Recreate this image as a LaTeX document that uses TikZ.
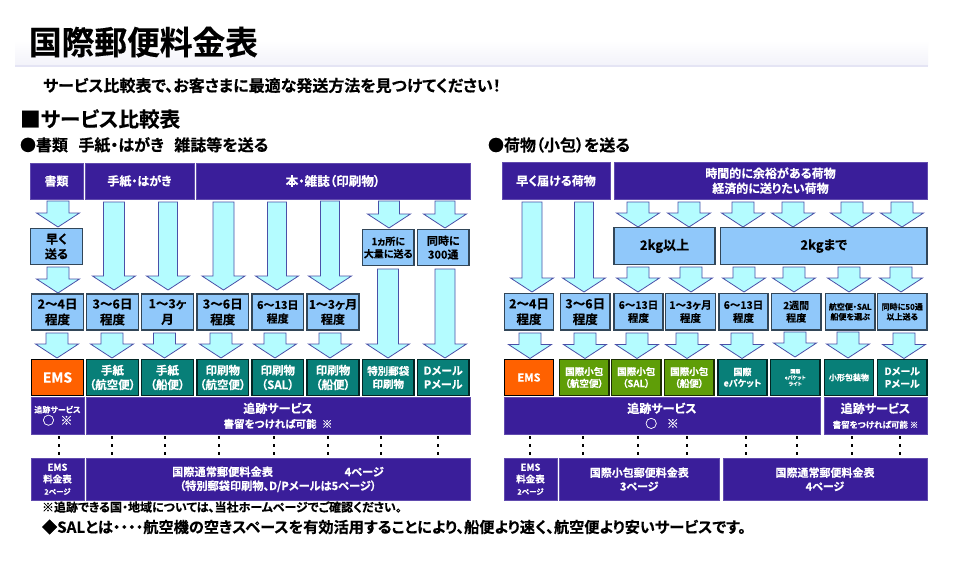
\documentclass[tikz,border=0pt]{standalone}
\usepackage{fontspec}
\setmainfont{Noto Sans CJK JP}[BoldFont={Noto Sans CJK JP Bold},RawFeature=+palt,BoldFeatures={FakeBold=0.35}]
\definecolor{navy}{HTML}{3A1E9A}
\definecolor{cya}{HTML}{B4FCFF}
\definecolor{sky}{HTML}{90C8FA}
\definecolor{tealb}{HTML}{087F78}
\definecolor{emsor}{HTML}{FF6100}
\definecolor{grn}{HTML}{5F9E08}
\definecolor{arredge}{HTML}{4A50A8}
\definecolor{band}{HTML}{F3F3FA}
\definecolor{bandline}{HTML}{E4E4F4}
\newcommand{\sz}[2]{\pgfmathsetmacro\szA{#1*0.75}\pgfmathsetmacro\szB{#2*0.75}\fontsize{\szA pt}{\szB pt}\selectfont\bfseries}
\tikzset{
  x=0.75pt,y=-0.75pt,
  cell/.style={inner sep=0pt,outer sep=0pt,align=center},
  navybox/.style={fill=navy,draw=navy!80!white,line width=0.4pt,text=white},
  skybox/.style={fill=sky,draw=black!65!sky,line width=0.8pt,text=black},
  tealbox/.style={fill=tealb,draw=black!70!tealb,line width=0.8pt,text=white},
  orbox/.style={fill=emsor,draw=black,line width=0.6pt,text=white},
  grnbox/.style={fill=grn,draw=black!70!grn,line width=0.8pt,text=white},
  blockarrow/.style={fill=cya,draw=arredge,line width=0.6pt,line join=miter},
  dotline/.style={draw=black,line width=2pt,dash pattern=on 2.2pt off 3.8pt},
  plain/.style={inner sep=0pt,outer sep=0pt,anchor=west,text=black},
}
% name, x1, y1, x2, y2, style, size, text
\newcommand{\bx}[8]{%
  \path[#6] (#2,#3) rectangle (#4,#5);
  \node[cell,#6,draw=none,fill=none,font={\sz{#7}{#7*1.25}}] (#1) at ({(#2+#4)/2},{(#3+#5)/2}) {#8};
}
% centre x, top, tip, shaft half width
\newcommand{\arr}[4]{%
  \draw[blockarrow] ({#1-#4},#2) -- ({#1+#4},#2) -- ({#1+#4},{#3-14}) -- ({#1+21.5},{#3-14}) -- (#1,#3)
    -- ({#1-21.5},{#3-14}) -- ({#1-#4},{#3-14}) -- cycle;
}
\newcommand{\dts}[1]{\draw[dotline] (#1,436) -- (#1,456);}
\begin{document}
\begin{tikzpicture}
\useasboundingbox (0,0) rectangle (958,564);
\fill[white] (0,0) rectangle (958,564);
% title band
\shade[top color=white,bottom color=band] (15,40) rectangle (928,65);
\fill[bandline] (15,64.5) rectangle (928,66.5);
\node[plain,font={\sz{32.7}{32.7}}] (title) at (29,42) {国際郵便料金表};
\node[plain,font={\sz{16}{16}}] (sub) at (43,85.5) {サービス比較表で、お客さまに最適な発送方法を見つけてください！};
\node[plain,font={\sz{20.6}{21}}] (sec) at (20,119) {■サービス比較表};
\node[plain,font={\sz{16}{16}}] (hl) at (20,145) {●書類\hspace{0.65em}手紙・はがき\hspace{0.65em}雑誌等を送る};
\node[plain,font={\sz{16}{16}}] (hr) at (488,145) {●荷物（小包）を送る};
% ---------- left arrows
\arr{58}{201}{227}{11}
\arr{58}{267}{293}{11}
\arr{114}{202}{290}{10.5}
\arr{168}{202}{290}{9.5}
\arr{223.5}{202}{290}{10.5}
\arr{277}{202}{290}{9.5}
\arr{330}{201}{290}{9.5}
\arr{389}{201}{228}{10.5}
\arr{445}{201}{228}{10}
\arr{388}{269}{358}{10.5}
\arr{445}{269}{358}{10}
\arr{57}{333}{358}{11}
\arr{112}{333}{358}{11}
\arr{164.5}{333}{358}{11}
\arr{221}{333}{358}{11}
\arr{275}{333}{358}{11}
\arr{330}{333}{358}{11}
% ---------- left boxes
\bx{lh1}{30}{163}{83}{199}{navybox}{12}{書類}
\bx{lh2}{85}{163}{194}{199}{navybox}{12}{手紙・はがき}
\bx{lh3}{196}{163}{470}{199}{navybox}{12.6}{本・雑誌（印刷物）}
\bx{la1}{30.5}{228.5}{82.5}{264.5}{skybox}{12}{早く\\送る}
\bx{la2}{362.5}{229.5}{414}{265.5}{skybox}{10}{1ヵ所に\\大量に送る}
\bx{la3}{417.5}{229.5}{469}{265.5}{skybox}{11}{同時に\\300通}
\bx{lt1}{31.5}{294}{83.5}{330}{skybox}{12.5}{2〜4日\\程度}
\bx{lt2}{86.5}{294}{138.5}{330}{skybox}{12.5}{3〜6日\\程度}
\bx{lt3}{141.5}{294}{193.5}{330}{skybox}{12.5}{1〜3ヶ\\月}
\bx{lt4}{197}{294}{248.5}{330}{skybox}{12.5}{3〜6日\\程度}
\bx{lt5}{252}{294}{303.5}{330}{skybox}{11}{6〜13日\\程度}
\bx{lt6}{307}{294}{359}{330}{skybox}{12}{1〜3ヶ月\\程度}
\bx{ls1}{31.5}{359.5}{83.5}{395.5}{orbox}{14}{EMS}
\bx{ls2}{86.5}{359.5}{138.5}{395.5}{tealbox}{11.5}{手紙\\（航空便）}
\bx{ls3}{141.5}{359.5}{193.5}{395.5}{tealbox}{11.5}{手紙\\（船便）}
\bx{ls4}{197}{359.5}{248.5}{395.5}{tealbox}{11.5}{印刷物\\（航空便）}
\bx{ls5}{252}{359.5}{303.5}{395.5}{tealbox}{11.5}{印刷物\\（SAL）}
\bx{ls6}{307}{359.5}{359}{395.5}{tealbox}{11.5}{印刷物\\（船便）}
\bx{ls7}{362.5}{359.5}{414}{395.5}{tealbox}{10.5}{特別郵袋\\印刷物}
\bx{ls8}{417.5}{359.5}{469}{395.5}{tealbox}{11}{Dメール\\Pメール}
\bx{lr1}{31}{397.5}{84}{434}{navybox}{8}{追跡サービス\\\sz{12}{15}○\hspace{0.5em}※}
\bx{lr2}{86}{397.5}{470}{434}{navybox}{12}{追跡サービス\\\sz{10.5}{13}書留をつければ可能\hspace{0.5em}※}
\bx{lp1}{31}{458.5}{84}{500}{navybox}{9.5}{EMS\\料金表\\\sz{7.5}{10}2ページ}
\bx{lp2}{86}{458.5}{470}{500}{navybox}{11.2}{国際通常郵便料金表\hspace{6.4em}4ページ\\（特別郵袋印刷物、D/Pメールは5ページ）}
\dts{59}\dts{112}\dts{165}\dts{219}\dts{274}\dts{328}\dts{381}\dts{438}
% ---------- right arrows
\arr{532}{202}{292}{10}
\arr{584}{202}{292}{9.5}
\arr{638}{202}{227}{11}
\arr{689}{202}{227}{11}
\arr{743}{202}{227}{11}
\arr{793}{202}{227}{11}
\arr{852}{202}{227}{11}
\arr{902}{202}{227}{11}
\arr{638}{267}{292}{11}
\arr{691}{267}{292}{11}
\arr{744}{267}{292}{11}
\arr{794}{267}{292}{11}
\arr{849}{267}{292}{11}
\arr{901}{267}{292}{11}
\arr{530}{333}{358.5}{11}
\arr{585}{333}{358.5}{11}
\arr{637}{333}{358.5}{11}
\arr{687}{333}{358.5}{11}
\arr{742}{333}{358.5}{11}
\arr{795}{332}{357}{11}
\arr{848}{332}{358}{11}
\arr{904}{333}{358.5}{11}
% ---------- right boxes
\bx{rh1}{502}{162.5}{610}{199}{navybox}{12}{早く届ける荷物}
\bx{rh2}{614}{162.5}{927}{199}{navybox}{12}{時間的に余裕がある荷物\\経済的に送りたい荷物}
\bx{rw1}{614}{227.5}{715}{264.5}{skybox}{13}{2kg以上}
\bx{rw2}{720.5}{227.5}{927}{264.5}{skybox}{13}{2kgまで}
\bx{rt1}{504.5}{293.5}{553.5}{330}{skybox}{12.5}{2〜4日\\程度}
\bx{rt2}{560.5}{293.5}{610}{330}{skybox}{12.5}{3〜6日\\程度}
\bx{rt3}{614}{293.5}{663}{330}{skybox}{10.5}{6〜13日\\程度}
\bx{rt4}{665.5}{293.5}{715.5}{330}{skybox}{10.5}{1〜3ヶ月\\程度}
\bx{rt5}{719}{293.5}{768}{330}{skybox}{10.5}{6〜13日\\程度}
\bx{rt6}{771.5}{293.5}{821}{330}{skybox}{10}{2週間\\程度}
\bx{rt7}{825.5}{293.5}{875}{330}{skybox}{8}{航空便・SAL\\船便を選ぶ}
\bx{rt8}{877.5}{293.5}{927}{330}{skybox}{8}{同時に50通\\以上送る}
\bx{rs1}{504.5}{359.5}{553.5}{395.5}{orbox}{11}{EMS}
\bx{rs2}{559.5}{359.5}{609}{395.5}{grnbox}{9.5}{国際小包\\（航空便）}
\bx{rs3}{611.5}{359.5}{661}{395.5}{grnbox}{9.5}{国際小包\\（SAL）}
\bx{rs4}{664.5}{359.5}{714}{395.5}{grnbox}{9.5}{国際小包\\（船便）}
\bx{rs5}{718}{359.5}{767}{395.5}{tealbox}{9}{国際\\eパケット}
\bx{rs6}{770.5}{359.5}{820}{395.5}{tealbox}{5}{国際\\eパケット\\ライト}
\bx{rs7}{824.5}{359.5}{873.5}{395.5}{tealbox}{8}{小形包装物}
\bx{rs8}{877.5}{359.5}{927}{395.5}{tealbox}{10}{Dメール\\Pメール}
\bx{rr1}{504}{397.5}{820}{434}{navybox}{12}{追跡サービス\\○\hspace{0.8em}※}
\bx{rr2}{824}{397.5}{927}{434}{navybox}{12}{追跡サービス\\\sz{8.5}{12}書留をつければ可能 ※}
\bx{rp1}{504}{458.5}{557}{500}{navybox}{9.5}{EMS\\料金表\\\sz{7.5}{10}2ページ}
\bx{rp2}{559.5}{458.5}{719}{500}{navybox}{11}{国際小包郵便料金表\\3ページ}
\bx{rp3}{723}{458.5}{927}{500}{navybox}{11}{国際通常郵便料金表\\4ページ}
\dts{530}\dts{583}\dts{638}\dts{687}\dts{746}\dts{797}\dts{852}\dts{900}
% ---------- notes
\node[plain,font={\sz{12}{12}}] (n1) at (42,507) {※追跡できる国・地域については、当社ホームページでご確認ください。};
\node[plain,font={\sz{15.2}{15.2}}] (n2) at (42,527) {◆SALとは・・・・航空機の空きスペースを有効活用することにより、船便より速く、航空便より安いサービスです。};
\end{tikzpicture}
\end{document}
